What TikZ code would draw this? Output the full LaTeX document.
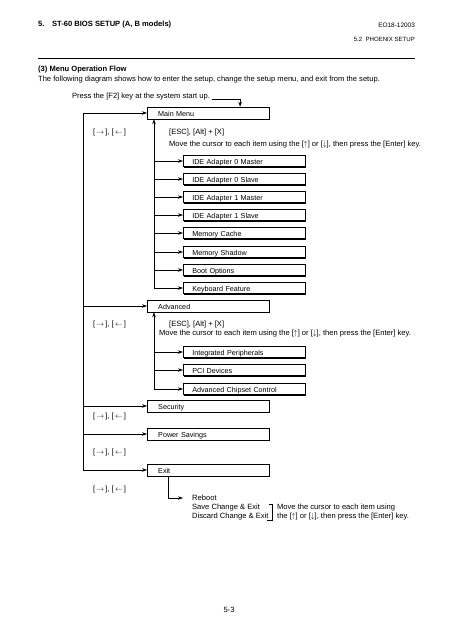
\documentclass[tikz,border=0pt]{standalone}
\usepackage{fontspec}
\setmainfont{Liberation Sans}
\usetikzlibrary{arrows.meta,positioning,calc,shadows}

\begin{document}
\begin{tikzpicture}[
    x=0.4636mm, y=-0.4636mm,
    font=\fontsize{10}{12}\selectfont,
    menubox/.style={rectangle, draw, line width=0.6pt, fill=white, anchor=west, align=left, text width=46.4mm, inner xsep=5.1mm, inner ysep=0pt, minimum height=5.6mm, text height=9pt, text depth=0pt, font=\fontsize{9.5}{11}\selectfont, drop shadow={shadow xshift=1.4pt, shadow yshift=-1.4pt, opacity=1, fill=black}},
    subbox/.style={menubox, text width=48.2mm, inner xsep=4.2mm, minimum height=5.1mm, text height=8.5pt},
    txt/.style={anchor=west, inner sep=0pt},
    arrow/.style={-{Stealth[length=2.3mm, width=1.6mm]}, line width=0.7pt},
]
    \useasboundingbox (0,0) rectangle (453,640);

    % Page header
    \node[txt, font=\bfseries\fontsize{10}{12}\selectfont] (title) at (38,25) {5.\quad ST-60 BIOS SETUP (A, B models)};
    \node[anchor=east, inner sep=0pt, font=\fontsize{8.5}{10}\selectfont] (docno) at (415,25) {EO18-12003};
    \node[anchor=east, inner sep=0pt, font=\fontsize{8}{9}\selectfont] (sect) at (415,39) {5.2\ \ PHOENIX SETUP};
    \draw[line width=1pt] (38,58) -- (415,58);

    % Intro
    \node[txt, font=\bfseries\fontsize{10}{12}\selectfont] (head) at (38,70) {(3) Menu Operation Flow};
    \node[txt] (intro) at (38,80) {The following diagram shows how to enter the setup, change the setup menu, and exit from the setup.};
    \node[txt] (press) at (72,97) {Press the [F2] key at the system start up.};

    % Top menus
    \node[menubox] (main) at (147,113) {Main Menu};
    \node[menubox] (adv) at (147,306) {Advanced};
    \node[menubox] (sec) at (147,406) {Security};
    \node[menubox] (power) at (147,434) {Power Savings};
    \node[menubox] (exit) at (147,470) {Exit};

    % Main Menu items
    \node[subbox] (ide0m) at (183,161) {IDE Adapter 0 Master};
    \node[subbox] (ide0s) at (183,179) {IDE Adapter 0 Slave};
    \node[subbox] (ide1m) at (183,197) {IDE Adapter 1 Master};
    \node[subbox] (ide1s) at (183,215) {IDE Adapter 1 Slave};
    \node[subbox] (mcache) at (183,233) {Memory Cache};
    \node[subbox] (mshadow) at (183,252) {Memory Shadow};
    \node[subbox] (boot) at (183,270) {Boot Options};
    \node[subbox] (kbd) at (183,288) {Keyboard Feature};

    % Advanced items
    \node[subbox] (integ) at (183,352) {Integrated Peripherals};
    \node[subbox] (pci) at (183,370) {PCI Devices};
    \node[subbox] (chipset) at (183,389) {Advanced Chipset Control};

    % Keys
    \node[txt] (keys1) at (93,133) {[\,$\rightarrow$\,],\ [\,$\leftarrow$\,]};
    \node[txt] (keys2) at (93,325) {[\,$\rightarrow$\,],\ [\,$\leftarrow$\,]};
    \node[txt] (keys3) at (93,417) {[\,$\rightarrow$\,],\ [\,$\leftarrow$\,]};
    \node[txt] (keys4) at (93,453) {[\,$\rightarrow$\,],\ [\,$\leftarrow$\,]};
    \node[txt] (keys5) at (93,490) {[\,$\rightarrow$\,],\ [\,$\leftarrow$\,]};

    % Notes
    \node[txt] (esc1) at (169,133) {[ESC], [Alt] + [X]};
    \node[txt] (move1) at (169,145) {Move the cursor to each item using the [$\uparrow$] or [$\downarrow$], then press the [Enter] key.};
    \node[txt] (esc2) at (169,325) {[ESC], [Alt] + [X]};
    \node[txt] (move2) at (159,334) {Move the cursor to each item using the [$\uparrow$] or [$\downarrow$], then press the [Enter] key.};

    % Exit items
    \node[txt, inner xsep=4.2mm] (reboot) at (183,498) {Reboot};
    \node[txt] (savex) at (192,508) {Save Change \& Exit};
    \node[txt] (discard) at (192,517) {Discard Change \& Exit};
    \node[txt] (hint1) at (277,508) {Move the cursor to each item using};
    \node[txt] (hint2) at (277,517) {the [$\uparrow$] or [$\downarrow$], then press the [Enter] key.};

    % Page number
    \node[inner sep=0pt] (pageno) at (229,610) {5-3};

    % Arrows
    \draw[arrow] ([xshift=1mm]press.base east) -| ($(main.north west)!0.76!(main.north east)$);

    \coordinate (ltrunk) at (83,470);
    \draw[arrow] (ltrunk) |- (main.west);
    \draw[arrow] (ltrunk |- adv.west) -- (adv.west);
    \draw[arrow] (ltrunk |- sec.west) -- (sec.west);
    \draw[arrow] (ltrunk |- power.west) -- (power.west);
    \draw[arrow] (ltrunk) -- (exit.west);

    \coordinate (mtrunk) at (154,288);
    \draw[arrow] (mtrunk) -- (mtrunk |- main.south);
    \draw[arrow] (mtrunk |- ide0m.west) -- (ide0m.west);
    \draw[arrow] (mtrunk |- ide0s.west) -- (ide0s.west);
    \draw[arrow] (mtrunk |- ide1m.west) -- (ide1m.west);
    \draw[arrow] (mtrunk |- ide1s.west) -- (ide1s.west);
    \draw[arrow] (mtrunk |- mcache.west) -- (mcache.west);
    \draw[arrow] (mtrunk |- mshadow.west) -- (mshadow.west);
    \draw[arrow] (mtrunk |- boot.west) -- (boot.west);
    \draw[arrow] (mtrunk) -- (kbd.west);

    \coordinate (atrunk) at (154,389);
    \draw[arrow] (atrunk) -- (atrunk |- adv.south);
    \draw[arrow] (atrunk |- integ.west) -- (integ.west);
    \draw[arrow] (atrunk |- pci.west) -- (pci.west);
    \draw[arrow] (atrunk) -- (chipset.west);

    \coordinate (edrop) at (168,470);
    \draw[arrow] (exit.south -| edrop) |- (reboot.west);

    % Bracket
    \draw[line width=0.6pt] ($(hint1.north west)+(-8,0)$) -- ++(3,0) |- ($(hint2.south west)+(-10,0)$);
\end{tikzpicture}
\end{document}
